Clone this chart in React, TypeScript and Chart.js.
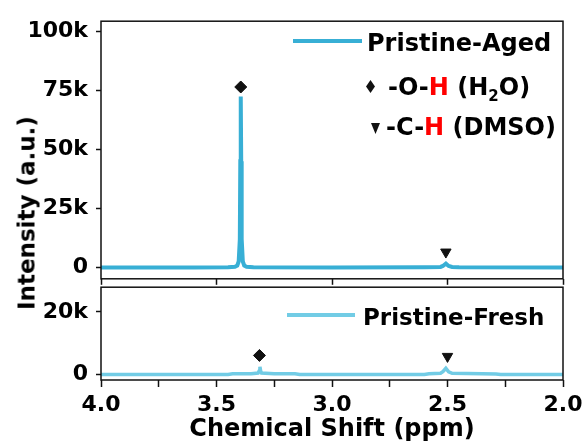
import React, { useEffect, useRef } from 'react';
import { Chart, registerables } from 'chart.js';
Chart.register(...registerables);

// ---- data ----
const agedShift = [4.0, 3.6, 3.45, 3.42, 3.41, 3.404, 3.399, 3.397, 3.395, 3.393, 3.391, 3.386, 3.38, 3.37, 3.34, 3.0, 2.6, 2.53, 2.52, 2.507, 2.495, 2.48, 2.45, 2.0];
const agedIntensity = [0, 0, 100, 300, 800, 2500, 12000, 45000, 72500, 45000, 12000, 2500, 800, 300, 100, 0, 50, 200, 600, 1600, 600, 200, 50, 0];

const freshShift = [4.0, 3.45, 3.43, 3.35, 3.32, 3.315, 3.312, 3.309, 3.305, 3.25, 3.16, 3.14, 2.6, 2.58, 2.53, 2.52, 2.507, 2.495, 2.48, 2.35, 2.29, 2.27, 2.0];
const freshIntensity = [0, 0, 250, 300, 500, 1200, 2500, 1200, 500, 300, 250, 0, 0, 250, 400, 900, 2000, 900, 400, 250, 200, 0, 0];

const agedOHMark = { x: 3.395, y: 76500 };
const agedCHMark = { x: 2.507, y: 6500 };
const freshOHMark = { x: 3.314, y: 6100 };
const freshCHMark = { x: 2.5, y: 5800 };

const topYTicks = [0, 25000, 50000, 75000, 100000];
const bottomYTicks = [0, 20000];
const topXTicks = [2.0, 2.5, 3.0, 3.5, 4.0];
const bottomXTicks = [2.0, 2.25, 2.5, 2.75, 3.0, 3.25, 3.5, 3.75, 4.0];
const xLabelTicks = [2.0, 2.5, 3.0, 3.5, 4.0];

const AGED = '#38AFD5';
const FRESH = '#72CCE5';
const INK = '#111';
const FONT = "'DejaVu Sans', 'Liberation Sans', sans-serif";

const fmtK = (v: number) => (v === 0 ? '0' : `${v / 1000}k`);

const framePlugin = {
  id: 'frame',
  afterDraw(chart: any) {
    const { ctx, chartArea: a } = chart;
    ctx.save();
    ctx.strokeStyle = INK;
    ctx.lineWidth = 1.5;
    ctx.strokeRect(a.left, a.top, a.right - a.left, a.bottom - a.top);
    ctx.restore();
  },
};

const tickFont = { family: FONT, weight: 'bold' as const, size: 22, lineHeight: 1.2 };

function markerSet(p: { x: number; y: number }, style: string, radius: number, rotation = 0) {
  return {
    data: [p],
    pointStyle: style,
    rotation,
    pointRadius: radius,
    backgroundColor: INK,
    borderColor: INK,
    borderWidth: 1,
    showLine: false,
    order: 0,
  };
}

function lineSet(xs: number[], ys: number[], color: string, width: number) {
  return {
    data: xs.map((x, i) => ({ x, y: ys[i] })),
    showLine: true,
    borderColor: color,
    backgroundColor: color,
    borderWidth: width,
    pointRadius: 0,
    tension: 0,
    order: 1,
  };
}

function yScale(min: number, max: number, ticks: number[]) {
  return {
    type: 'linear',
    min,
    max,
    afterBuildTicks: (s: any) => {
      s.ticks = ticks.map((v) => ({ value: v }));
    },
    afterFit: (s: any) => {
      s.width = 101;
    },
    ticks: { font: tickFont, color: '#000', padding: 8, callback: (v: any) => fmtK(Number(v)) },
    grid: { drawOnChartArea: false, drawTicks: true, tickLength: 5, tickWidth: 1.5, tickColor: INK },
    border: { display: false },
  };
}

function topConfig(): any {
  return {
    type: 'scatter',
    data: {
      datasets: [
        lineSet(agedShift, agedIntensity, AGED, 4),
        markerSet(agedOHMark, 'rectRot', 6),
        markerSet(agedCHMark, 'triangle', 6, 180),
      ],
    },
    options: {
      animation: false,
      responsive: false,
      events: [],
      layout: { padding: { top: 15, right: 19, left: 0, bottom: 0 } },
      plugins: { legend: { display: false }, tooltip: { enabled: false } },
      scales: {
        x: {
          type: 'linear',
          reverse: true,
          min: 2,
          max: 4,
          afterBuildTicks: (s: any) => {
            s.ticks = topXTicks.map((v) => ({ value: v }));
          },
          afterFit: (s: any) => {
            s.height = 14;
          },
          ticks: { display: false },
          grid: { drawOnChartArea: false, drawTicks: true, tickLength: 6, tickWidth: 1.5, tickColor: INK },
          border: { display: false },
        },
        y: yScale(-4840, 104400, topYTicks),
      },
    },
    plugins: [framePlugin],
  };
}

function bottomConfig(): any {
  return {
    type: 'scatter',
    data: {
      datasets: [
        lineSet(freshShift, freshIntensity, FRESH, 3.5),
        markerSet(freshOHMark, 'rectRot', 6),
        markerSet(freshCHMark, 'triangle', 6, 180),
      ],
    },
    options: {
      animation: false,
      responsive: false,
      events: [],
      layout: { padding: { top: 20, right: 19, left: 0, bottom: 0 } },
      plugins: { legend: { display: false }, tooltip: { enabled: false } },
      scales: {
        x: {
          type: 'linear',
          reverse: true,
          min: 2,
          max: 4,
          afterBuildTicks: (s: any) => {
            s.ticks = bottomXTicks.map((v) => ({ value: v }));
          },
          afterFit: (s: any) => {
            s.height = 62;
          },
          ticks: {
            font: tickFont,
            color: '#000',
            padding: 5,
            maxRotation: 0,
            autoSkip: false,
            callback: (v: any) => {
              const n = Number(v);
              return xLabelTicks.some((t) => Math.abs(t - n) < 1e-6) ? n.toFixed(1) : '';
            },
          },
          title: {
            display: true,
            text: 'Chemical Shift (ppm)',
            color: '#000',
            font: { family: FONT, weight: 'bold', size: 24, lineHeight: 1 },
            padding: { top: 0, bottom: 0 },
          },
          grid: { drawOnChartArea: false, drawTicks: true, tickLength: 7, tickWidth: 1.5, tickColor: INK },
          border: { display: false },
        },
        y: yScale(-1730, 27870, bottomYTicks),
      },
    },
    plugins: [framePlugin],
  };
}

const legendText: React.CSSProperties = {
  position: 'absolute',
  fontFamily: FONT,
  fontWeight: 'bold',
  fontSize: 24,
  lineHeight: 1,
  whiteSpace: 'nowrap',
  color: '#000',
};

export default function App() {
  const topRef = useRef<HTMLCanvasElement>(null);
  const botRef = useRef<HTMLCanvasElement>(null);

  useEffect(() => {
    const c1 = new Chart(topRef.current as HTMLCanvasElement, topConfig());
    const c2 = new Chart(botRef.current as HTMLCanvasElement, bottomConfig());
    return () => {
      c1.destroy();
      c2.destroy();
    };
  }, []);

  return (
    <div style={{ position: 'absolute', left: 0, top: 0, width: 582, height: 442, background: '#fff', overflow: 'hidden' }}>
      <canvas ref={topRef} width={582} height={300} style={{ position: 'absolute', left: 0, top: 0 }} />
      <canvas ref={botRef} width={582} height={176} style={{ position: 'absolute', left: 0, top: 266 }} />

      {/* y axis title */}
      <div
        style={{
          ...legendText,
          fontSize: 23,
          left: 27,
          top: 213,
          transform: 'translate(-50%, -50%) rotate(-90deg)',
        }}
      >
        Intensity (a.u.)
      </div>

      {/* top legend */}
      <div style={{ position: 'absolute', left: 293, top: 39, width: 69, height: 4, background: AGED }} />
      <div style={{ ...legendText, left: 367, top: 30.5 }}>Pristine-Aged</div>

      <svg width={9} height={13} style={{ position: 'absolute', left: 366.2, top: 80.2 }}>
        <polygon points="4.5,0 9,6.5 4.5,13 0,6.5" fill={INK} />
      </svg>
      <div style={{ ...legendText, left: 388, top: 75 }}>
        -O-<span style={{ color: '#FF0000' }}>H</span> (H
        <span style={{ fontSize: 15, position: 'relative', top: 6 }}>2</span>O)
      </div>

      <svg width={9} height={11} style={{ position: 'absolute', left: 370.5, top: 123 }}>
        <polygon points="0,0 9,0 4.5,11" fill={INK} />
      </svg>
      <div style={{ ...legendText, left: 386, top: 114.5 }}>
        -C-<span style={{ color: '#FF0000' }}>H</span> (DMSO)
      </div>

      {/* bottom legend */}
      <div style={{ position: 'absolute', left: 287, top: 313, width: 68, height: 4, background: FRESH }} />
      <div style={{ ...legendText, fontSize: 23, left: 363, top: 305.5 }}>Pristine-Fresh</div>
    </div>
  );
}
